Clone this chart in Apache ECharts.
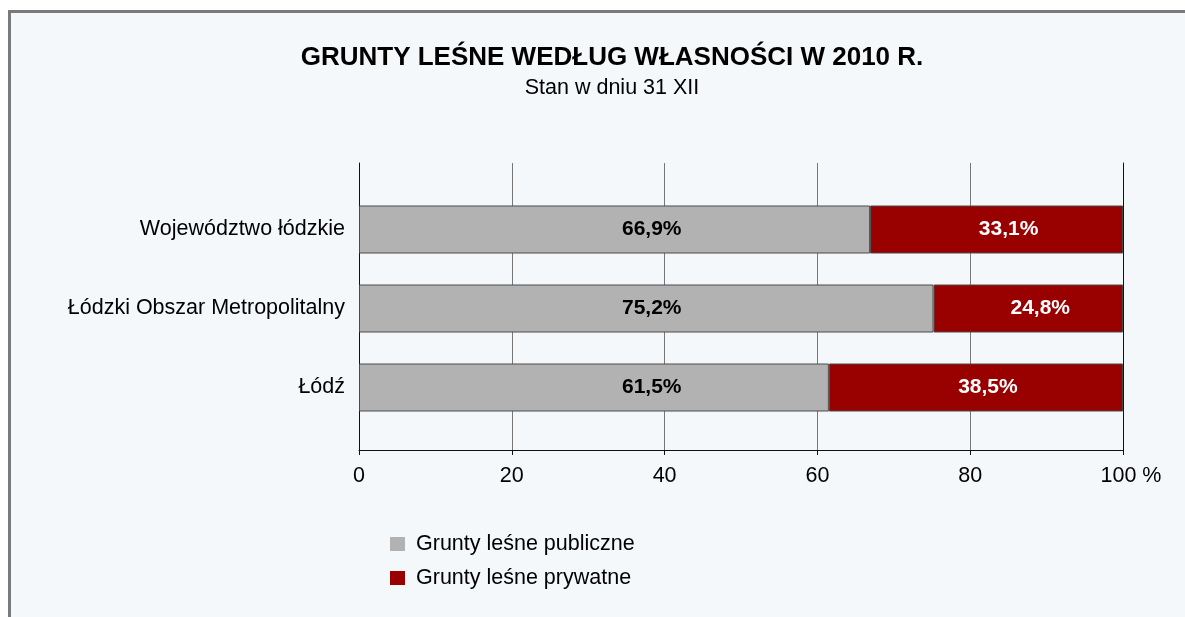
<!DOCTYPE html>
<html>
<head>
<meta charset="utf-8">
<title>Grunty leśne według własności</title>
<script src="https://cdn.jsdelivr.net/npm/echarts@6/dist/echarts.min.js"></script>
<style>
html, body { margin: 0; padding: 0; background: #fff; overflow: hidden; }
#frame {
  position: absolute; left: 8px; top: 10px;
  width: 1200px; height: 700px;
  border: 3px solid #7a7a7a; background: #f5f8fa;
}
#chart { position: absolute; left: 0; top: 0; width: 1185px; height: 617px; }
</style>
</head>
<body>
<div id="frame"></div>
<div id="chart"></div>
<script>
// dane
const categories = ["Województwo łódzkie", "Łódzki Obszar Metropolitalny", "Łódź"];
const publicShare = [66.9, 75.2, 61.5];
const privateShare = [33.1, 24.8, 38.5];
const seriesNames = ["Grunty leśne publiczne", "Grunty leśne prywatne"];
const xTicks = { min: 0, max: 100, interval: 20 };

const FONT = "'Liberation Sans', Arial, sans-serif";
const LABEL_SIZE = 21.5;

function pct(v) {
  return v.toFixed(1).replace(".", ",") + "%";
}

const chart = echarts.init(document.getElementById("chart"));

chart.setOption({
  backgroundColor: "transparent",
  textStyle: { fontFamily: FONT },
  title: {
    text: "GRUNTY LEŚNE WEDŁUG WŁASNOŚCI W 2010 R.",
    subtext: "Stan w dniu 31 XII",
    left: 612,
    top: 45,
    textAlign: "center",
    padding: 0,
    itemGap: 6,
    textStyle: { fontFamily: FONT, fontSize: 26, fontWeight: "bold", color: "#000" },
    subtextStyle: { fontFamily: FONT, fontSize: LABEL_SIZE, color: "#000" }
  },
  legend: {
    data: seriesNames,
    orient: "vertical",
    left: 390,
    top: 533,
    padding: 0,
    itemWidth: 15,
    itemHeight: 14,
    itemGap: 12,
    icon: "rect",
    itemStyle: { borderWidth: 0 },
    textStyle: { fontFamily: FONT, fontSize: LABEL_SIZE, color: "#000", padding: [0, 0, 0, 6] }
  },
  // grid 0: osie i linie siatki, grid 1: słupki
  grid: [
    { left: 359, right: 62, top: 163, bottom: 167 },
    { left: 359, right: 62, top: 190, bottom: 190 }
  ],
  xAxis: [
    {
      gridIndex: 0,
      type: "value",
      min: xTicks.min,
      max: xTicks.max,
      interval: xTicks.interval,
      axisLine: { show: true, lineStyle: { color: "#111", width: 1 } },
      axisTick: { show: true, length: 5, lineStyle: { color: "#111" } },
      splitLine: { show: true, lineStyle: { color: "#777", width: 1 } },
      axisLabel: {
        margin: 15,
        fontSize: LABEL_SIZE,
        color: "#000",
        formatter: function (v) {
          return v === 100 ? "{w|100 %}" : String(v);
        },
        rich: { w: { fontSize: LABEL_SIZE, fontFamily: FONT, color: "#000", padding: [0, 0, 0, 16] } }
      }
    },
    {
      gridIndex: 1,
      type: "value",
      min: xTicks.min,
      max: xTicks.max,
      show: false
    }
  ],
  yAxis: [
    {
      gridIndex: 0,
      type: "value",
      min: 0,
      max: 1,
      axisLine: { show: true, lineStyle: { color: "#111" } },
      axisTick: { show: false },
      axisLabel: { show: false },
      splitLine: { show: false }
    },
    {
      gridIndex: 0,
      type: "value",
      position: "right",
      min: 0,
      max: 1,
      axisLine: { show: true, lineStyle: { color: "#111" } },
      axisTick: { show: false },
      axisLabel: { show: false },
      splitLine: { show: false }
    },
    {
      gridIndex: 1,
      type: "category",
      data: categories,
      inverse: true,
      axisLine: { show: false },
      axisTick: { show: false },
      axisLabel: { margin: 14, fontSize: LABEL_SIZE, color: "#000" }
    }
  ],
  series: [
    {
      name: seriesNames[0],
      type: "bar",
      stack: "all",
      xAxisIndex: 1,
      yAxisIndex: 2,
      barWidth: 48,
      data: publicShare,
      itemStyle: { color: "#b2b2b2", borderColor: "#4a4a4a", borderWidth: 1 },
      label: {
        show: true,
        position: "insideLeft",
        distance: 263,
        fontSize: 21,
        fontWeight: "bold",
        color: "#000",
        formatter: function (p) { return pct(p.value); }
      }
    },
    {
      name: seriesNames[1],
      type: "bar",
      stack: "all",
      xAxisIndex: 1,
      yAxisIndex: 2,
      barWidth: 48,
      data: privateShare,
      itemStyle: { color: "#990000", borderColor: "#4a4a4a", borderWidth: 1 },
      label: {
        show: true,
        position: "inside",
        offset: [12, 0],
        fontSize: 21,
        fontWeight: "bold",
        color: "#fff",
        formatter: function (p) { return pct(p.value); }
      }
    }
  ]
});
</script>
</body>
</html>
